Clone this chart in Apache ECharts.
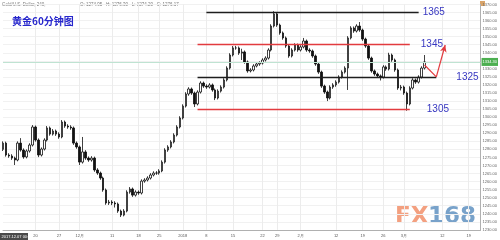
<!DOCTYPE html>
<html><head><meta charset="utf-8">
<script src="https://cdn.jsdelivr.net/npm/echarts@6/dist/echarts.min.js"></script>
<style>html,body{margin:0;padding:0;background:#fff}#c{width:500px;height:240px}</style>
</head><body><div id="c"></div>
<script>
const opens=[1280.0,1283.9,1276.5,1275.9,1274.6,1273.4,1283.9,1279.6,1275.3,1279.0,1282.7,1293.9,1285.8,1276.5,1280.2,1285.8,1293.3,1289.5,1291.4,1289.5,1287.7,1297.0,1294.5,1293.9,1293.3,1283.9,1281.5,1272.1,1278.4,1274.6,1273.4,1274.6,1267.2,1265.3,1262.2,1254.8,1246.7,1247.3,1246.7,1246.1,1241.7,1239.2,1241.7,1253.5,1255.4,1251.6,1253.5,1252.9,1260.3,1261.0,1262.2,1264.1,1265.3,1265.3,1266.6,1272.1,1279.6,1281.5,1284.6,1288.9,1293.9,1299.5,1306.9,1314.4,1317.5,1315.0,1308.2,1315.6,1321.2,1319.3,1318.7,1320.0,1316.9,1311.9,1316.2,1318.7,1323.1,1330.5,1338.6,1343.0,1343.0,1339.8,1340.5,1334.3,1328.7,1329.3,1331.8,1333.0,1333.6,1335.5,1336.7,1341.7,1356.6,1364.1,1357.2,1352.3,1349.2,1344.2,1338.0,1341.7,1344.8,1341.7,1343.6,1347.3,1341.7,1341.1,1338.0,1333.0,1328.0,1319.3,1315.6,1311.9,1318.7,1320.0,1321.8,1324.9,1328.0,1330.5,1349.2,1355.4,1353.5,1356.6,1354.1,1348.5,1344.2,1336.7,1328.7,1326.8,1325.6,1324.9,1331.2,1329.9,1338.6,1335.5,1329.3,1318.1,1318.7,1315.0,1308.2,1318.1,1323.1,1321.8,1324.9,1330.5];
const closes=[1283.9,1276.5,1275.9,1274.6,1273.4,1283.9,1279.6,1275.3,1279.0,1282.7,1293.9,1285.8,1276.5,1280.2,1285.8,1293.3,1289.5,1291.4,1289.5,1287.7,1297.0,1294.5,1293.9,1293.3,1283.9,1281.5,1272.1,1278.4,1274.6,1273.4,1274.6,1267.2,1265.3,1262.2,1254.8,1246.7,1247.3,1246.7,1246.1,1241.7,1239.2,1241.7,1253.5,1255.4,1251.6,1253.5,1252.9,1260.3,1261.0,1262.2,1264.1,1265.3,1265.3,1266.6,1272.1,1279.6,1281.5,1284.6,1288.9,1293.9,1299.5,1306.9,1314.4,1317.5,1315.0,1308.2,1315.6,1321.2,1319.3,1318.7,1320.0,1316.9,1311.9,1316.2,1318.7,1323.1,1330.5,1338.6,1343.0,1343.0,1339.8,1340.5,1334.3,1328.7,1329.3,1331.8,1333.0,1333.6,1335.5,1336.7,1341.7,1356.6,1364.1,1357.2,1352.3,1349.2,1344.2,1338.0,1341.7,1344.8,1341.7,1343.6,1347.3,1341.7,1341.1,1338.0,1333.0,1328.0,1319.3,1315.6,1311.9,1318.7,1320.0,1321.8,1324.9,1328.0,1330.5,1349.2,1355.4,1353.5,1356.6,1354.1,1348.5,1344.2,1336.7,1328.7,1326.8,1325.6,1324.9,1331.2,1329.9,1338.6,1335.5,1329.3,1318.1,1318.7,1315.0,1308.2,1318.1,1323.1,1321.8,1324.9,1330.5,1334.3];
const lows=[1279.0,1275.5,1274.8,1273.5,1270.3,1272.6,1278.6,1274.2,1274.4,1278.0,1281.8,1284.8,1275.2,1275.6,1279.3,1284.9,1288.5,1288.6,1288.4,1286.6,1286.9,1293.4,1292.8,1292.2,1282.8,1280.4,1270.3,1271.2,1273.5,1272.3,1272.4,1266.1,1264.2,1261.1,1253.7,1245.6,1245.5,1245.4,1243.9,1240.6,1238.0,1238.4,1240.9,1252.5,1250.5,1250.7,1251.8,1252.0,1259.3,1260.1,1261.3,1263.2,1264.2,1264.3,1265.8,1271.2,1278.5,1280.6,1283.7,1288.0,1293.0,1298.6,1306.0,1313.3,1313.9,1306.3,1307.3,1314.7,1318.2,1317.6,1317.8,1315.8,1310.6,1311.0,1315.3,1317.8,1322.2,1329.6,1337.7,1341.9,1338.7,1335.5,1333.2,1327.6,1327.8,1328.4,1330.9,1331.9,1332.7,1334.6,1335.8,1340.8,1355.7,1356.1,1351.2,1348.1,1343.1,1336.9,1337.1,1340.8,1340.6,1340.8,1342.7,1340.6,1340.0,1336.9,1331.9,1326.9,1318.2,1314.5,1310.0,1311.0,1317.6,1318.9,1320.9,1324.0,1327.1,1316.9,1348.3,1352.4,1352.6,1353.0,1347.4,1343.1,1335.6,1327.6,1325.7,1324.5,1322.8,1324.0,1328.8,1329.0,1334.4,1328.2,1317.0,1316.6,1313.9,1304.0,1307.3,1317.2,1320.7,1320.9,1324.0,1329.6];
const highs=[1285.0,1284.8,1277.6,1277.0,1275.5,1285.0,1287.0,1280.6,1280.0,1283.8,1295.1,1294.8,1286.8,1281.2,1286.9,1294.5,1294.2,1292.6,1292.3,1290.6,1298.2,1297.9,1295.6,1295.0,1294.2,1284.9,1282.4,1287.7,1279.5,1275.6,1275.8,1275.5,1268.3,1266.2,1263.1,1255.7,1248.6,1248.4,1247.8,1247.0,1242.6,1242.9,1254.6,1256.6,1256.3,1254.6,1254.5,1261.4,1262.1,1263.3,1265.2,1266.4,1266.5,1267.7,1273.2,1280.7,1282.6,1285.7,1290.0,1295.0,1300.6,1308.0,1315.5,1318.6,1318.4,1315.9,1316.7,1322.3,1322.1,1320.4,1321.1,1320.9,1317.8,1317.3,1319.8,1324.2,1331.6,1339.7,1344.2,1344.3,1343.9,1342.5,1341.4,1335.2,1330.4,1332.9,1334.1,1334.7,1336.6,1337.8,1342.8,1357.7,1365.8,1365.0,1358.1,1353.2,1350.1,1345.1,1342.8,1345.9,1345.7,1344.7,1349.2,1348.2,1342.8,1342.0,1338.9,1333.9,1328.9,1320.2,1316.5,1319.8,1321.1,1322.9,1326.0,1329.1,1331.6,1350.3,1356.5,1356.3,1357.7,1359.1,1355.0,1349.4,1345.1,1337.6,1329.6,1327.7,1326.5,1332.3,1332.1,1340.0,1339.5,1336.4,1330.2,1320.0,1319.6,1315.9,1319.2,1324.2,1324.0,1326.0,1331.6,1338.6];

const tickLabels=["20","27","12月","11","18","25","2018","8","15","22","29","2月","12","19","26","3月","12","19"];
const tickSlots=[11,19,26,37,46,53,61,69,78,88,93,101,113,122,129,136,149,158];
const slotCount=163;

const levels=[1365,1345,1325,1305];
const levelFrom=[69,66,66,66];
const levelTo=[141,138,147,138];
const levelColors=['#1e1e1e','#e23b3f','#1e1e1e','#e23b3f'];
const levelGap=[4,11,20,17];
const lastPrice=1334.3;
const arrowPath=[[143,1332.4],[147,1325],[150,1344.8]];

const categories=new Array(slotCount).fill('');
tickSlots.forEach((s,k)=>{categories[s]=tickLabels[k];});
const candleData=opens.map((o,i)=>[o,closes[i],lows[i],highs[i]]);

const chart=echarts.init(document.getElementById('c'),null,{renderer:'canvas'});
const levelLines=levels.map((v,k)=>[
  {coord:[levelFrom[k],v],lineStyle:{color:levelColors[k],width:1.3,type:'solid'},
   label:{show:true,position:'end',formatter:String(v),distance:levelGap[k],color:'#3636c0',fontSize:10,fontFamily:'Liberation Sans'}},
  {coord:[levelTo[k],v]}
]);
chart.setOption({
  animation:false,
  backgroundColor:'#ffffff',
  title:{text:'黄金60分钟图',left:7,top:11,textStyle:{color:'#2626cc',fontSize:10,fontWeight:'bold',fontFamily:'Noto Sans CJK SC'}},
  grid:{left:0,right:15,top:4.45,bottom:10.1},
  xAxis:{type:'category',data:categories,boundaryGap:false,
    axisLine:{show:true,lineStyle:{color:'#b0b0b0',width:1}},
    axisTick:{show:false},
    axisLabel:{interval:0,fontSize:4,color:'#555',margin:4,fontFamily:'Liberation Sans'},
    splitLine:{show:true,interval:(i,v)=>v!=='',lineStyle:{color:'#ececec',width:1}}},
  yAxis:{type:'value',position:'right',min:1230,max:1370,interval:5,
    axisLine:{show:true,lineStyle:{color:'#b0b0b0',width:1}},
    axisTick:{show:false},
    axisLabel:{fontSize:4,color:'#666',margin:2,formatter:v=>v.toFixed(2),fontFamily:'Liberation Sans'},
    splitLine:{show:true,lineStyle:{color:'#f1f1f1',width:1}}},
  graphic:[
    {type:'text',style:{x:2,y:2,text:'Gold/U.S. Dollar, 240,',fill:'#777',fontSize:4.5,fontFamily:'Liberation Sans'}},
    {type:'text',style:{x:80,y:2,text:'O: 1274.95   H: 1276.30   L: 1274.20   C: 1276.17',fill:'#777',fontSize:4.5,fontFamily:'Liberation Sans'}},
    {type:'rect',shape:{x:480,y:1,width:5,height:5},style:{fill:'#d9a46a'}},
    {type:'rect',shape:{x:0,y:233,width:28,height:7},style:{fill:'#4a4a4a'}},
    {type:'text',style:{x:1.5,y:234.5,text:'2017.12.07 00:00',fill:'#fff',fontSize:4,fontFamily:'Liberation Sans'}},
    {type:'text',z:-1,style:{x:395,y:217,text:'FX',fill:'#f3a080',fontSize:23,fontWeight:'bold',fontFamily:'DejaVu Sans',verticalAlign:'middle'}},
    {type:'text',z:-1,style:{x:428,y:217,text:'168',fill:'#78a2ca',fontSize:23,fontWeight:'bold',fontFamily:'DejaVu Sans',verticalAlign:'middle'}}
  ],
  series:[
    {type:'line',data:[],z:1,
     markLine:{silent:true,symbol:['none','none'],animation:false,
       data:[{yAxis:lastPrice,lineStyle:{color:'#bfe3d2',width:1,type:'solid'},
         label:{show:true,position:'end',distance:1,formatter:lastPrice.toFixed(2),backgroundColor:'#4caf50',color:'#fff',fontSize:4,padding:[2,1]}}]}},
    {type:'candlestick',z:3,data:candleData,barWidth:2,
     itemStyle:{color:'#ffffff',color0:'#111111',borderColor:'#111111',borderColor0:'#111111',borderWidth:0.8},
     markLine:{silent:true,symbol:['none','none'],animation:false,label:{show:false},
       data:[...levelLines,
         [{coord:arrowPath[0],lineStyle:{color:'#e23b3f',width:1.2,type:'solid'}},{coord:arrowPath[1]}],
         [{coord:arrowPath[1],lineStyle:{color:'#e23b3f',width:1.2,type:'solid'}},{coord:arrowPath[2],symbol:'arrow',symbolSize:[5,7]}]
       ]}}
  ]
});
</script></body></html>
